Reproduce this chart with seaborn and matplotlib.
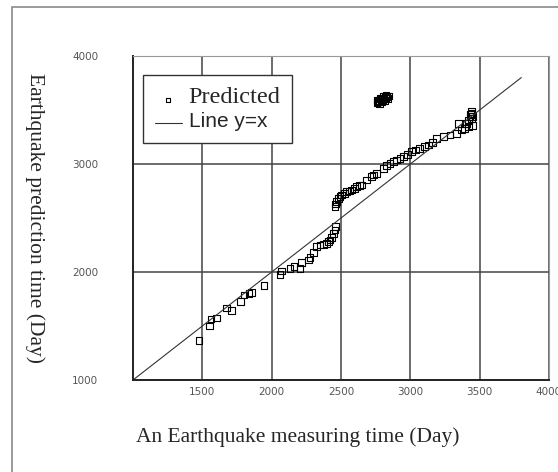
import seaborn as sns, matplotlib.pyplot as plt, numpy as np
from matplotlib.patches import Rectangle

measured = np.array([
    1476, 1550, 1563, 1600, 1676, 1712, 1776, 1800, 1837, 1856,
    1945, 2060, 2072, 2132, 2161, 2204, 2216, 2264, 2276, 2300,
    2324, 2348, 2372, 2396, 2410, 2421, 2433, 2445, 2457, 2462,
    2457, 2462, 2468, 2481, 2493, 2505, 2523, 2541, 2559, 2577,
    2595, 2613, 2631, 2649, 2685, 2721, 2733, 2757, 2805, 2830,
    2853, 2877, 2901, 2925, 2949, 2980, 3009, 3040, 3069, 3100,
    3130, 3160, 3190, 3238, 3286, 3334, 3346, 3370, 3390, 3406,
    3420, 3430, 3436, 3442, 3444, 3440, 3450, 3448, 3420,
    2760, 2770, 2780, 2790, 2800, 2810, 2820, 2830, 2840,
    2775, 2795, 2815, 2835, 2765, 2785, 2805, 2825,
])
predicted = np.array([
    1364, 1500, 1565, 1574, 1666, 1642, 1725, 1787, 1803, 1808,
    1877, 1979, 2009, 2034, 2049, 2034, 2086, 2111, 2136, 2180,
    2234, 2250, 2255, 2265, 2280, 2296, 2320, 2358, 2389, 2420,
    2605, 2630, 2650, 2682, 2700, 2713, 2728, 2744, 2750, 2759,
    2775, 2790, 2798, 2806, 2852, 2883, 2898, 2913, 2960, 2985,
    3006, 3020, 3037, 3050, 3068, 3090, 3114, 3130, 3146, 3160,
    3176, 3200, 3238, 3254, 3269, 3284, 3377, 3315, 3330, 3377,
    3400, 3439, 3455, 3470, 3485, 3420, 3440, 3360, 3350,
    3570, 3580, 3590, 3595, 3600, 3610, 3615, 3620, 3630,
    3560, 3575, 3590, 3605, 3590, 3610, 3625, 3635,
])
line_x = [1000, 3800]
ticks = [1000, 2000, 3000, 4000]
xticks = [1500, 2000, 2500, 3000, 3500, 4000]

sns.set_style('white')
fig = plt.figure(figsize=(5.58, 4.72), dpi=100)
fig.patches.append(Rectangle((12/558, -0.01), 1.0, 1 - 7/472 + 0.01, transform=fig.transFigure,
                             fill=False, edgecolor='#8a8a8a', linewidth=1.2))
ax = fig.add_axes([133/558, 1 - 380/472, 416/558, 324/472])

sns.lineplot(x=line_x, y=line_x, ax=ax, color='#333333', linewidth=0.8, label='Line y=x')
sns.scatterplot(x=measured, y=predicted, ax=ax, marker='s', s=24, color='none',
                edgecolor='black', linewidth=0.8, label='Predicted')

ax.set_xlim(1000, 4000)
ax.set_ylim(1000, 4000)
ax.set_xticks(xticks)
ax.set_yticks(ticks)
ax.grid(True, color='#444444', linewidth=1.1)
ax.set_axisbelow(True)
for s in ['top', 'right']:
    ax.spines[s].set_color('#999999')
for s in ['left', 'bottom']:
    ax.spines[s].set_color('#222222')
    ax.spines[s].set_linewidth(1.4)
ax.tick_params(axis='both', length=3, direction='out', color='#222222', labelsize=7.5, labelcolor='#555555')
ax.tick_params(axis='y', pad=22)
ax.tick_params(axis='x', pad=2)

ax.set_xlabel('An Earthquake measuring time (Day)', family='Liberation Serif', fontsize=15.5)
ax.xaxis.set_label_coords(0.397, -0.145)
ax.set_ylabel('Earthquake prediction time (Day)', family='Liberation Serif', fontsize=15.5,
              rotation=270)
ax.yaxis.set_label_coords(-0.26, 0.5)

h, l = ax.get_legend_handles_labels()
leg = ax.legend(h[::-1], l[::-1], loc='upper left', bbox_to_anchor=(0.025, 0.94), fancybox=False,
                edgecolor='#333333', framealpha=1, borderaxespad=0, handlelength=1.9,
                handletextpad=0.5, borderpad=0.85, labelspacing=0.3, markerscale=0.6)
leg.get_frame().set_linewidth(1.0)
leg.get_texts()[0].set_fontfamily('Liberation Serif')
leg.get_texts()[0].set_fontsize(17.5)
leg.get_texts()[1].set_fontfamily('Liberation Sans')
leg.get_texts()[1].set_fontsize(15)

plt.savefig('out.png', dpi=100)
